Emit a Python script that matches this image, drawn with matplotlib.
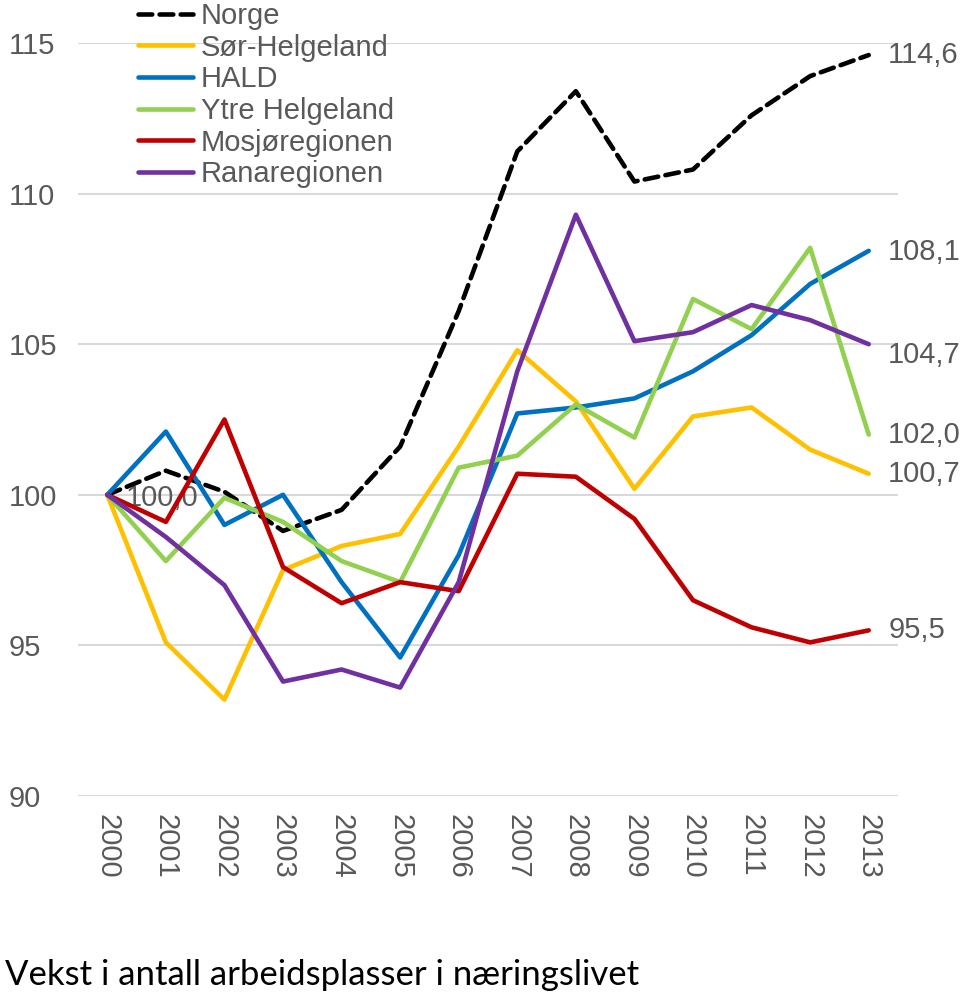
import matplotlib
matplotlib.use("Agg")
import matplotlib.pyplot as plt

years = ["2000", "2001", "2002", "2003", "2004", "2005", "2006",
         "2007", "2008", "2009", "2010", "2011", "2012", "2013"]

norge = [100.0, 100.8, 100.1, 98.8, 99.5, 101.6, 106.1, 111.4, 113.4, 110.4, 110.8, 112.6, 113.9, 114.6]
sor_helgeland = [100.0, 95.1, 93.2, 97.5, 98.3, 98.7, 101.6, 104.8, 103.1, 100.2, 102.6, 102.9, 101.5, 100.7]
hald = [100.0, 102.1, 99.0, 100.0, 97.1, 94.6, 98.0, 102.7, 102.9, 103.2, 104.1, 105.3, 107.0, 108.1]
ytre_helgeland = [100.0, 97.8, 99.9, 99.1, 97.8, 97.1, 100.9, 101.3, 103.0, 101.9, 106.5, 105.5, 108.2, 102.0]
mosjoregionen = [100.0, 99.1, 102.5, 97.6, 96.4, 97.1, 96.8, 100.7, 100.6, 99.2, 96.5, 95.6, 95.1, 95.5]
ranaregionen = [100.0, 98.6, 97.0, 93.8, 94.2, 93.6, 97.1, 104.1, 109.3, 105.1, 105.4, 106.3, 105.8, 105.0]

series_names = ["Norge", "Sør-Helgeland", "HALD", "Ytre Helgeland", "Mosjøregionen", "Ranaregionen"]
series_values = [norge, sor_helgeland, hald, ytre_helgeland, mosjoregionen, ranaregionen]
series_colors = ["#000000", "#FFC000", "#0070C0", "#92D050", "#C00000", "#7030A0"]

end_labels = ["114,6", "100,7", "108,1", "102,0", "95,5", "104,7"]
end_offsets = [0, 0, -1, 0, 0, -8]
start_label = "100,0"

yticks = [90, 95, 100, 105, 110, 115]
title = "Vekst i antall arbeidsplasser i næringslivet"

gray = "#595959"
fs = 21
plt.rcParams['font.family'] = ['Liberation Sans', 'DejaVu Sans']

fig = plt.figure(figsize=(9.6, 9.92), dpi=100)
ax = fig.add_axes([78/960, 1 - 796/992, 820/960, 753/992])

x = list(range(len(years)))

for name, vals, col in zip(series_names, series_values, series_colors):
    if name == "Norge":
        ax.plot(x, vals, color=col, lw=3.3, dashes=(3.0, 1.6), label=name,
                clip_on=False, zorder=3, dash_capstyle='round')
    else:
        ax.plot(x, vals, color=col, lw=3.3, label=name, clip_on=False, zorder=3,
                solid_capstyle='round')

for vals, lab, dy in zip(series_values, end_labels, end_offsets):
    ax.annotate(lab, xy=(x[-1], vals[-1]), xytext=(14, dy), textcoords='offset points',
                ha='left', va='center', fontsize=fs, color=gray, annotation_clip=False)

ax.annotate(start_label, xy=(0, 100), xytext=(13, -2), textcoords='offset points',
            ha='left', va='center', fontsize=fs, color=gray, zorder=1)

ax.set_xlim(-0.5, len(years) - 0.5)
ax.set_ylim(90, 115)
ax.set_yticks(yticks)
ax.set_yticklabels([str(v) for v in yticks])
ax.set_xticks(x)
ax.set_xticklabels(years, rotation=-90, va='top', ha='center')
ax.grid(axis='y', color='#D9D9D9', lw=1.5)
ax.set_axisbelow(True)
for s in ax.spines.values():
    s.set_visible(False)
ax.tick_params(axis='both', length=0, labelsize=fs, labelcolor=gray)
ax.tick_params(axis='y', pad=50)
ax.tick_params(axis='x', pad=13)
for lab in ax.get_yticklabels():
    lab.set_ha('left')

leg = ax.legend(loc='upper left', bbox_to_anchor=(138/960, 1 - 2/992), bbox_transform=fig.transFigure,
                frameon=False, fontsize=fs, handlelength=1.9, handletextpad=0.25,
                labelspacing=0.125, borderpad=0, borderaxespad=0)
for t in leg.get_texts():
    t.set_color(gray)

fig.text(5/960, 1 - 975/992, title, fontsize=25, family=['Lato', 'DejaVu Sans'],
         color='black', ha='left', va='center')

fig.savefig("out.png", dpi=100)
